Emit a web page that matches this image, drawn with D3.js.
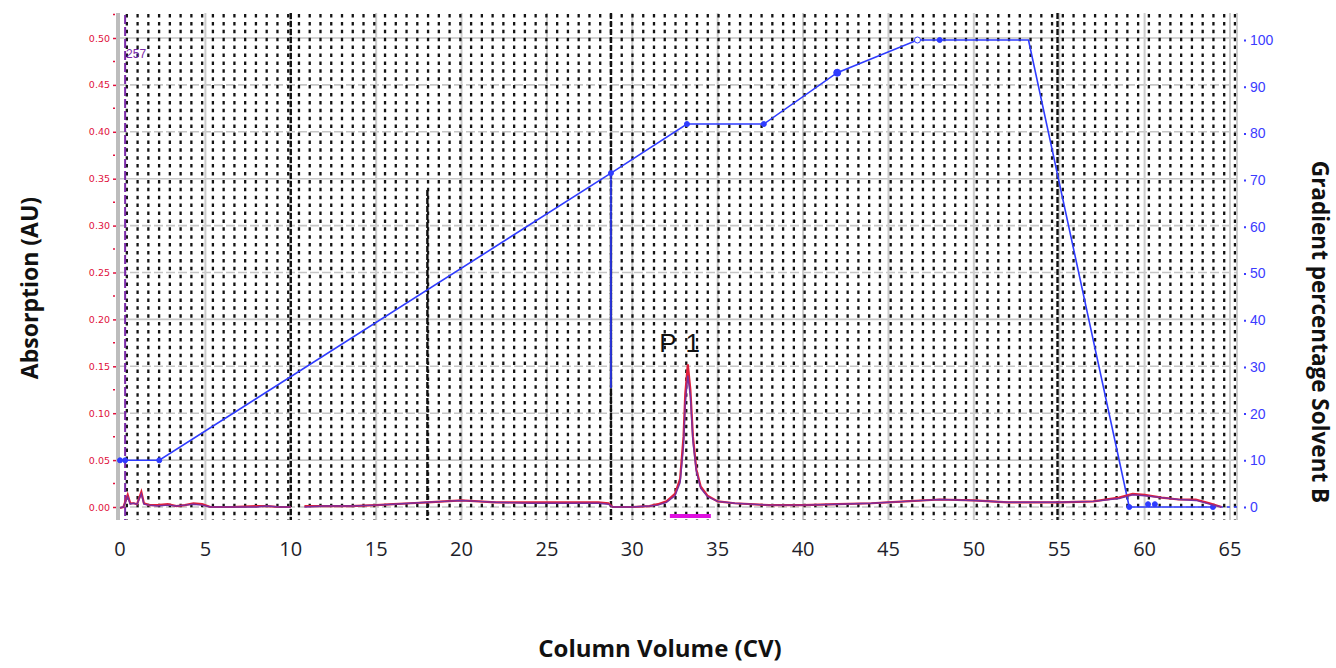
<!DOCTYPE html>
<html>
<head>
<meta charset="utf-8">
<script src="https://cdn.jsdelivr.net/npm/d3@7"></script>
<style>
  body { margin: 0; background: #fff; }
  svg { display: block; }
  .title { font-family: "Open Sans", sans-serif; font-weight: 700; fill: #111; }
</style>
</head>
<body>
<div id="chart"></div>
<script>
// x axis / ticks
const cvTicks = [0, 5, 10, 15, 20, 25, 30, 35, 40, 45, 50, 55, 60, 65];
const absTicks = [0, 0.05, 0.10, 0.15, 0.20, 0.25, 0.30, 0.35, 0.40, 0.45, 0.50];
const absMinor = [0.025, 0.075, 0.125, 0.175, 0.225, 0.275, 0.325, 0.375, 0.425, 0.475, 0.525];
const gradTicks = [0, 10, 20, 30, 40, 50, 60, 70, 80, 90, 100];

// UV absorbance trace (two overlaid channels)
const absCV = [0, 0.2, 0.45, 0.6, 0.8, 1.0, 1.25, 1.4, 1.7, 2.2,
  2.8, 3.3, 3.8, 4.3, 4.8, 5.3, 6.5, 8.0, 8.6, 9.3,
  10.0, 10.4, 10.8, 12, 13.5, 15, 16, 17, 18, 19,
  20, 21, 22, 24, 26, 28, 28.6, 28.85, 30, 31,
  31.5, 32.0, 32.5, 32.8, 33.0, 33.1, 33.25, 33.4, 33.55, 33.75,
  34.0, 34.4, 35.0, 36, 38, 40, 42, 44, 46, 48,
  50, 52, 55, 57, 58.5, 59.3, 60, 61, 62, 63,
  63.8, 64.5];
const absRed = [-0.001, 0.000, 0.013, 0.004, 0.004, 0.003, 0.016, 0.004, 0.002, 0.002,
  0.003, 0.001, 0.002, 0.004, 0.003, 0.000, 0.000, 0.001, 0.001, 0.000,
  0.000, null, 0.001, 0.001, 0.001, 0.002, 0.003, 0.004, 0.005, 0.006,
  0.007, 0.006, 0.005, 0.005, 0.005, 0.005, 0.004, 0.000, 0.000, 0.001,
  0.003, 0.006, 0.014, 0.030, 0.075, 0.120, 0.152, 0.125, 0.075, 0.040,
  0.022, 0.012, 0.006, 0.004, 0.002, 0.002, 0.003, 0.004, 0.006, 0.008,
  0.007, 0.005, 0.005, 0.006, 0.010, 0.014, 0.013, 0.010, 0.008, 0.008,
  0.004, 0.000];
const absPurple = [-0.001, 0.000, 0.011, 0.003, 0.004, 0.003, 0.014, 0.003, 0.002, 0.001,
  0.002, 0.001, 0.002, 0.003, 0.002, 0.000, 0.000, 0.000, 0.001, 0.000,
  0.000, null, 0.000, 0.001, 0.001, 0.002, 0.003, 0.004, 0.005, 0.006,
  0.007, 0.006, 0.005, 0.004, 0.004, 0.004, 0.003, 0.000, 0.000, 0.001,
  0.002, 0.005, 0.012, 0.026, 0.065, 0.110, 0.140, 0.118, 0.070, 0.038,
  0.020, 0.011, 0.006, 0.004, 0.002, 0.002, 0.003, 0.004, 0.006, 0.008,
  0.007, 0.005, 0.005, 0.006, 0.009, 0.013, 0.012, 0.010, 0.008, 0.007,
  0.003, 0.000];

// gradient %B
const gradCV = [0, 2.3, 28.75, 33.2, 37.7, 42.0, 46.7, 53.2, 59.1, 64.0];
const gradB = [10, 10, 71.5, 82, 82, 93, 100, 100, 0, 0];
const gradMarkCV = [0, 0.3, 2.3, 28.75, 33.2, 37.7, 42.0, 46.7, 48.0, 59.1, 60.2, 60.6, 64.0];
const gradMarkB = [10, 10, 10, 71.5, 82, 82, 93, 100, 100, 0, 0.6, 0.6, 0];
const stepCV = [28.75, 28.75];
const stepB = [71.5, 25.5];
const tailCV = [64.0, 65.5];
const tailB = [0, 0];

// run events
const markerCV = [10.0, 18.0, 28.75, 54.9];
const injectCV = 0.3;
const injectLabel = '257';
const fractionCV = [32.2, 34.6];
const peakLabel = 'P 1';
const peakCV = 32.8;
const peakAU = 0.165;

const W = 1336, H = 668;
const plotTop = 13, plotBottom = 520, plotLeft = 118, plotRight = 1237;

const svg = d3.select('#chart').append('svg').attr('width', W).attr('height', H);
svg.append('rect').attr('width', W).attr('height', H).attr('fill', '#fff');

const x = d3.scaleLinear().domain([0, 65]).range([120, 1230]);
const yAbs = d3.scaleLinear().domain([0, 0.5]).range([507, 38]);
const yGrad = d3.scaleLinear().domain([0, 100]).range([507, 40]);

// grey grid
const grid = svg.append('g');
grid.selectAll('.hgrid').data(absTicks).enter().append('line')
  .attr('x1', plotLeft).attr('x2', plotRight)
  .attr('y1', d => yAbs(d)).attr('y2', d => yAbs(d))
  .attr('stroke', '#c6c6c6').attr('stroke-width', 1.6)
  .attr('stroke-dasharray', (d, i) => i % 3 === 1 ? null : '9,3');
grid.selectAll('.vgrid').data(cvTicks.slice(1)).enter().append('line')
  .attr('x1', d => x(d)).attr('x2', d => x(d))
  .attr('y1', plotTop).attr('y2', plotBottom)
  .attr('stroke', '#cccccc').attr('stroke-width', 2);

// dotted fraction grid
const dotted = d3.range(0.4, 65.3, 0.63);
grid.selectAll('.dot').data(dotted).enter().append('line')
  .attr('x1', d => x(d)).attr('x2', d => x(d))
  .attr('y1', plotTop + 1).attr('y2', plotBottom)
  .attr('stroke', '#141414').attr('stroke-width', 2.3)
  .attr('stroke-dasharray', '3.5,4.4');

// event markers
svg.selectAll('.evt').data(markerCV).enter().append('line')
  .attr('x1', d => x(d)).attr('x2', d => x(d))
  .attr('y1', (d, i) => i === 1 ? 190 : plotTop).attr('y2', plotBottom)
  .attr('stroke', '#111').attr('stroke-width', 2.4)
  .attr('stroke-dasharray', '6,2');

// axis frame lines
svg.append('line').attr('x1', plotLeft).attr('x2', plotLeft).attr('y1', plotTop).attr('y2', plotBottom)
  .attr('stroke', '#bdbdbd').attr('stroke-width', 4);
svg.append('line').attr('x1', plotRight).attr('x2', plotRight).attr('y1', plotTop).attr('y2', plotBottom)
  .attr('stroke', '#bdbdbd').attr('stroke-width', 1.5);

// injection mark
svg.append('line')
  .attr('x1', x(injectCV)).attr('x2', x(injectCV))
  .attr('y1', plotTop + 2).attr('y2', plotBottom)
  .attr('stroke', '#7b2aa8').attr('stroke-width', 2)
  .attr('stroke-dasharray', '9,3');
svg.append('text')
  .attr('x', x(injectCV) + 1).attr('y', 58)
  .attr('fill', '#7b2aa8').attr('font-family', 'Liberation Sans, Arial, sans-serif')
  .attr('font-size', 12).text(injectLabel);

// gradient line
const gradLine = d3.line().x(d => x(d[0])).y(d => yGrad(d[1]));
svg.append('path').datum(d3.zip(gradCV, gradB))
  .attr('d', gradLine).attr('fill', 'none').attr('stroke', '#2f3cff').attr('stroke-width', 1.6);
svg.append('path').datum(d3.zip(stepCV, stepB))
  .attr('d', gradLine).attr('fill', 'none').attr('stroke', '#2f3cff').attr('stroke-width', 1.6);
svg.append('path').datum(d3.zip(tailCV, tailB))
  .attr('d', gradLine).attr('fill', 'none').attr('stroke', '#2f3cff').attr('stroke-width', 1.5)
  .attr('stroke-dasharray', '3,4');
svg.selectAll('.gm').data(d3.zip(gradMarkCV, gradMarkB)).enter().append('circle')
  .attr('cx', d => x(d[0])).attr('cy', d => yGrad(d[1]))
  .attr('r', (d, i) => i === 6 ? 3.5 : i === 7 ? 3 : 2.5)
  .attr('fill', (d, i) => i === 7 ? '#fff' : '#2f3cff')
  .attr('stroke', '#2f3cff').attr('stroke-width', 1);

// absorbance traces
const absLine = d3.line().defined(d => d[1] !== null).x(d => x(d[0])).y(d => yAbs(d[1]));
svg.append('path').datum(d3.zip(absCV, absRed))
  .attr('d', absLine).attr('fill', 'none').attr('stroke', '#e0203c').attr('stroke-width', 2.2);
svg.append('path').datum(d3.zip(absCV, absPurple))
  .attr('d', absLine).attr('fill', 'none').attr('stroke', '#7a2f9e').attr('stroke-width', 1.4);

// fraction bar
svg.append('line')
  .attr('x1', x(fractionCV[0])).attr('x2', x(fractionCV[1]))
  .attr('y1', yAbs(-0.0095)).attr('y2', yAbs(-0.0095))
  .attr('stroke', '#e010e0').attr('stroke-width', 4);

// peak label
svg.append('text')
  .attr('x', x(peakCV)).attr('y', yAbs(peakAU))
  .attr('text-anchor', 'middle')
  .attr('font-family', 'Liberation Sans, Arial, sans-serif')
  .attr('font-size', 26).attr('fill', '#111')
  .attr('letter-spacing', 1)
  .text(peakLabel);

// left axis (absorbance)
const leftAxis = svg.append('g').attr('transform', `translate(${plotLeft - 2},0)`)
  .call(d3.axisLeft(yAbs).tickValues(absTicks).tickFormat(d3.format('.2f')).tickSize(3).tickPadding(3));
leftAxis.select('.domain').remove();
leftAxis.selectAll('line').attr('stroke', '#e0103c').attr('stroke-width', 1.5);
leftAxis.selectAll('text').attr('fill', '#e0103c')
  .attr('font-family', 'DejaVu Sans, sans-serif').attr('font-size', 9.5);
svg.append('g').selectAll('.mn').data(absMinor).enter().append('line')
  .attr('x1', plotLeft - 5).attr('x2', plotLeft - 3)
  .attr('y1', d => yAbs(d)).attr('y2', d => yAbs(d))
  .attr('stroke', '#e0103c').attr('stroke-width', 1.5);

// right axis (gradient)
const rightAxis = svg.append('g').attr('transform', `translate(${plotRight + 7},0)`)
  .call(d3.axisRight(yGrad).tickValues(gradTicks).tickSize(2).tickPadding(4));
rightAxis.select('.domain').remove();
rightAxis.selectAll('line').attr('stroke', '#3b3bff').attr('stroke-width', 2);
rightAxis.selectAll('text').attr('fill', '#3b3bff')
  .attr('font-family', 'Liberation Sans, Arial, sans-serif').attr('font-size', 14);

// bottom labels
svg.append('g').selectAll('.xl').data(cvTicks).enter().append('text')
  .attr('x', d => x(d)).attr('y', 556)
  .attr('text-anchor', 'middle')
  .attr('font-family', 'Open Sans, sans-serif').attr('font-size', 20)
  .attr('fill', '#1e1e2a')
  .text(d => d);

// titles
svg.append('text').attr('class', 'title')
  .attr('transform', 'translate(38,288) rotate(-90)')
  .attr('text-anchor', 'middle').attr('font-size', 23)
  .text('Absorption (AU)');
svg.append('text').attr('class', 'title')
  .attr('transform', 'translate(1312,332) rotate(90)')
  .attr('text-anchor', 'middle').attr('font-size', 22.5)
  .text('Gradient percentage Solvent B');
svg.append('text').attr('class', 'title')
  .attr('x', 660).attr('y', 657)
  .attr('text-anchor', 'middle').attr('font-size', 24)
  .text('Column Volume (CV)');
</script>
</body>
</html>
